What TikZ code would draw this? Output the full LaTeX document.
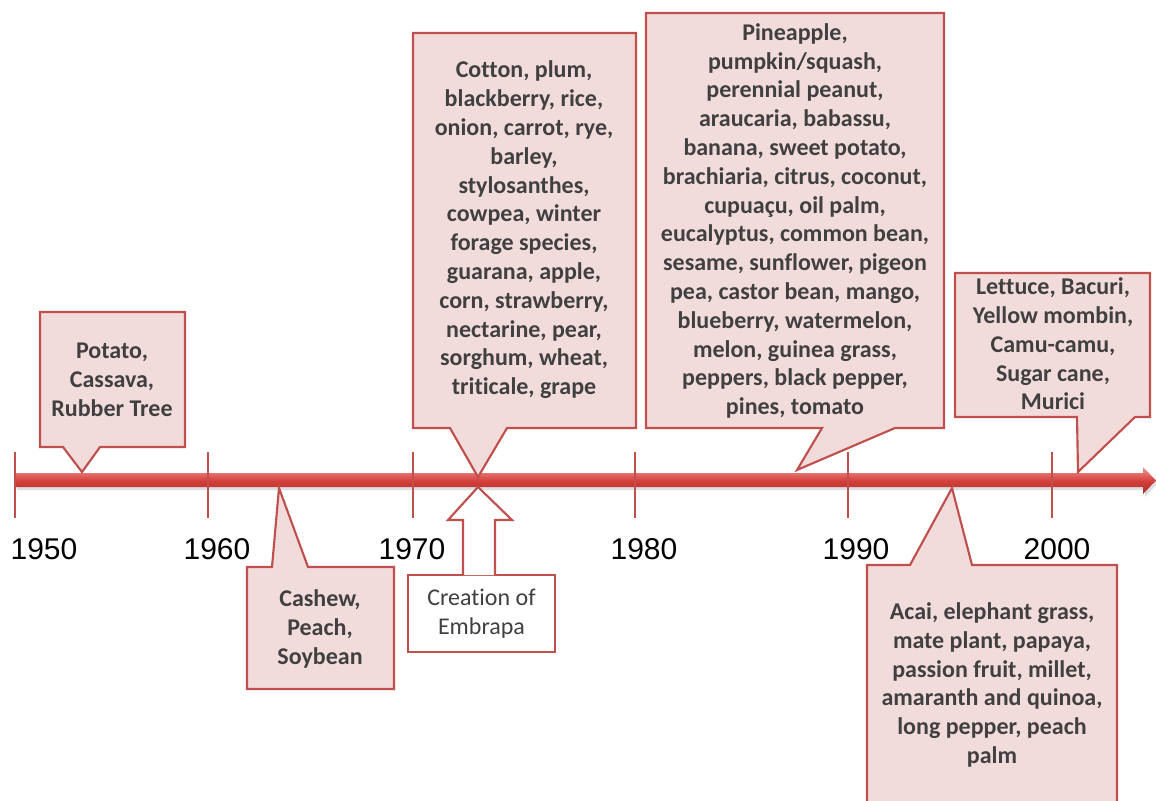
\documentclass[tikz,border=0pt]{standalone}
\usepackage{fontspec}
\setmainfont{Carlito}[Ligatures=NoCommon]
\newfontfamily\yearfont{Liberation Sans}
\definecolor{cborder}{HTML}{C0504D}
\definecolor{cfill}{HTML}{F2DCDB}
\definecolor{ctext}{HTML}{404040}
\definecolor{bartop}{HTML}{EE9A98}
\definecolor{barmid}{HTML}{D6403C}
\definecolor{barbot}{HTML}{A8302D}
\begin{document}
\begin{tikzpicture}[x=0.75pt,y=-0.75pt,
  callout/.style={draw=cborder,fill=cfill,line width=1.6pt,line join=miter},
  ctxt/.style={text=ctext,font=\fontsize{18}{21.6}\selectfont\bfseries,align=center,inner sep=0pt},
  etxt/.style={text=ctext,font=\fontsize{18}{21.6}\selectfont,align=center,inner sep=0pt},
  yr/.style={text=black,font=\yearfont\fontsize{22.5}{26}\selectfont,inner sep=0pt},
  tick/.style={draw=cborder,line width=1.5pt}]
\clip (0,0) rectangle (1156,800);
\fill[white] (0,0) rectangle (1156,800);

% timeline bar
\fill[black!25,opacity=0.5] (17,476) -- (1145,476) -- (1145,471) -- (1158,483) -- (1145,497) -- (1145,490) -- (17,490) -- cycle;
\shade[top color=bartop,bottom color=barbot,middle color=barmid]
  (15,473) -- (1143,473) -- (1143,467) -- (1156,480.5) -- (1143,494) -- (1143,487) -- (15,487) -- cycle;
\coordinate (bartip) at (1156,480.5);

% ticks
\foreach \x/\n in {15/a,208/b,413/c,635/d,848/e,1052/f}{
  \draw[tick] (\x,452) coordinate (t\n top) -- (\x,518) coordinate (t\n bot);
}

% year labels
\node[yr] (y1950) at (44,549) {1950};
\node[yr] (y1960) at (217,549) {1960};
\node[yr] (y1970) at (412,549) {1970};
\node[yr] (y1980) at (644,549) {1980};
\node[yr] (y1990) at (856,549) {1990};
\node[yr] (y2000) at (1057,549) {2000};

% callout tips
\coordinate (p1) at (82,472);
\coordinate (p2) at (279,488);
\coordinate (p3) at (478,477);
\coordinate (p4) at (797,470);
\coordinate (p5) at (952,488);
\coordinate (p6) at (1078,472);

% Potato
\path[callout] (40,312) -- (185,312) -- (185,447) -- (100,447) -- (p1) -- (63,447) -- (40,447) -- cycle;
\node[ctxt] (potato) at (112,380) {Potato,\\Cassava,\\Rubber Tree};

% Cashew
\path[callout] (247,567) -- (272,567) -- (p2) -- (308,567) -- (394,567) -- (394,689) -- (247,689) -- cycle;
\node[ctxt] (cashew) at (320,629) {Cashew,\\Peach,\\Soybean};

% Cotton
\path[callout] (413,33) -- (636,33) -- (636,428) -- (507,428) -- (p3) -- (450,428) -- (413,428) -- cycle;
\node[ctxt] (cotton) at (524,230) {Cotton, plum,\\blackberry, rice,\\onion, carrot, rye,\\barley,\\stylosanthes,\\cowpea, winter\\forage species,\\guarana, apple,\\corn, strawberry,\\nectarine, pear,\\sorghum, wheat,\\triticale, grape};

% Pineapple
\path[callout] (646,13) -- (944,13) -- (944,428) -- (895,428) -- (p4) -- (822,428) -- (646,428) -- cycle;
\node[ctxt] (pineapple) at (795,221) {Pineapple,\\pumpkin/squash,\\perennial peanut,\\araucaria, babassu,\\banana, sweet potato,\\brachiaria, citrus, coconut,\\cupuaçu, oil palm,\\eucalyptus, common bean,\\sesame, sunflower, pigeon\\pea, castor bean, mango,\\blueberry, watermelon,\\melon, guinea grass,\\peppers, black pepper,\\pines, tomato};

% Acai
\path[callout] (867,565) -- (910,565) -- (p5) -- (972,565) -- (1117,565) -- (1117,810) -- (867,810) -- cycle;
\node[ctxt] (acai) at (992,685) {Acai, elephant grass,\\mate plant, papaya,\\passion fruit, millet,\\amaranth and quinoa,\\long pepper, peach\\palm};

% Lettuce
\path[callout] (955,273) -- (1150,273) -- (1150,417) -- (1135,417) -- (p6) -- (1077,417) -- (955,417) -- cycle;
\node[ctxt] (lettuce) at (1053,344) {Lettuce, Bacuri,\\Yellow mombin,\\Camu-camu,\\Sugar cane,\\Murici};

% Creation of Embrapa
\node[draw=cborder,fill=white,line width=1.6pt,inner sep=0pt,
      minimum width=110pt,minimum height=57.75pt] (embrapa) at (481.5,613.5) {};
\node[etxt] (embtxt) at (481.5,614) {Creation of\\Embrapa};
\coordinate (etip) at (478,487);
\path[draw=cborder,fill=white,line width=1.6pt]
  (463,575) -- (463,520) -- (448,520) -- (etip) -- (512,520) -- (495,520) -- (495,575);
\end{tikzpicture}
\end{document}
